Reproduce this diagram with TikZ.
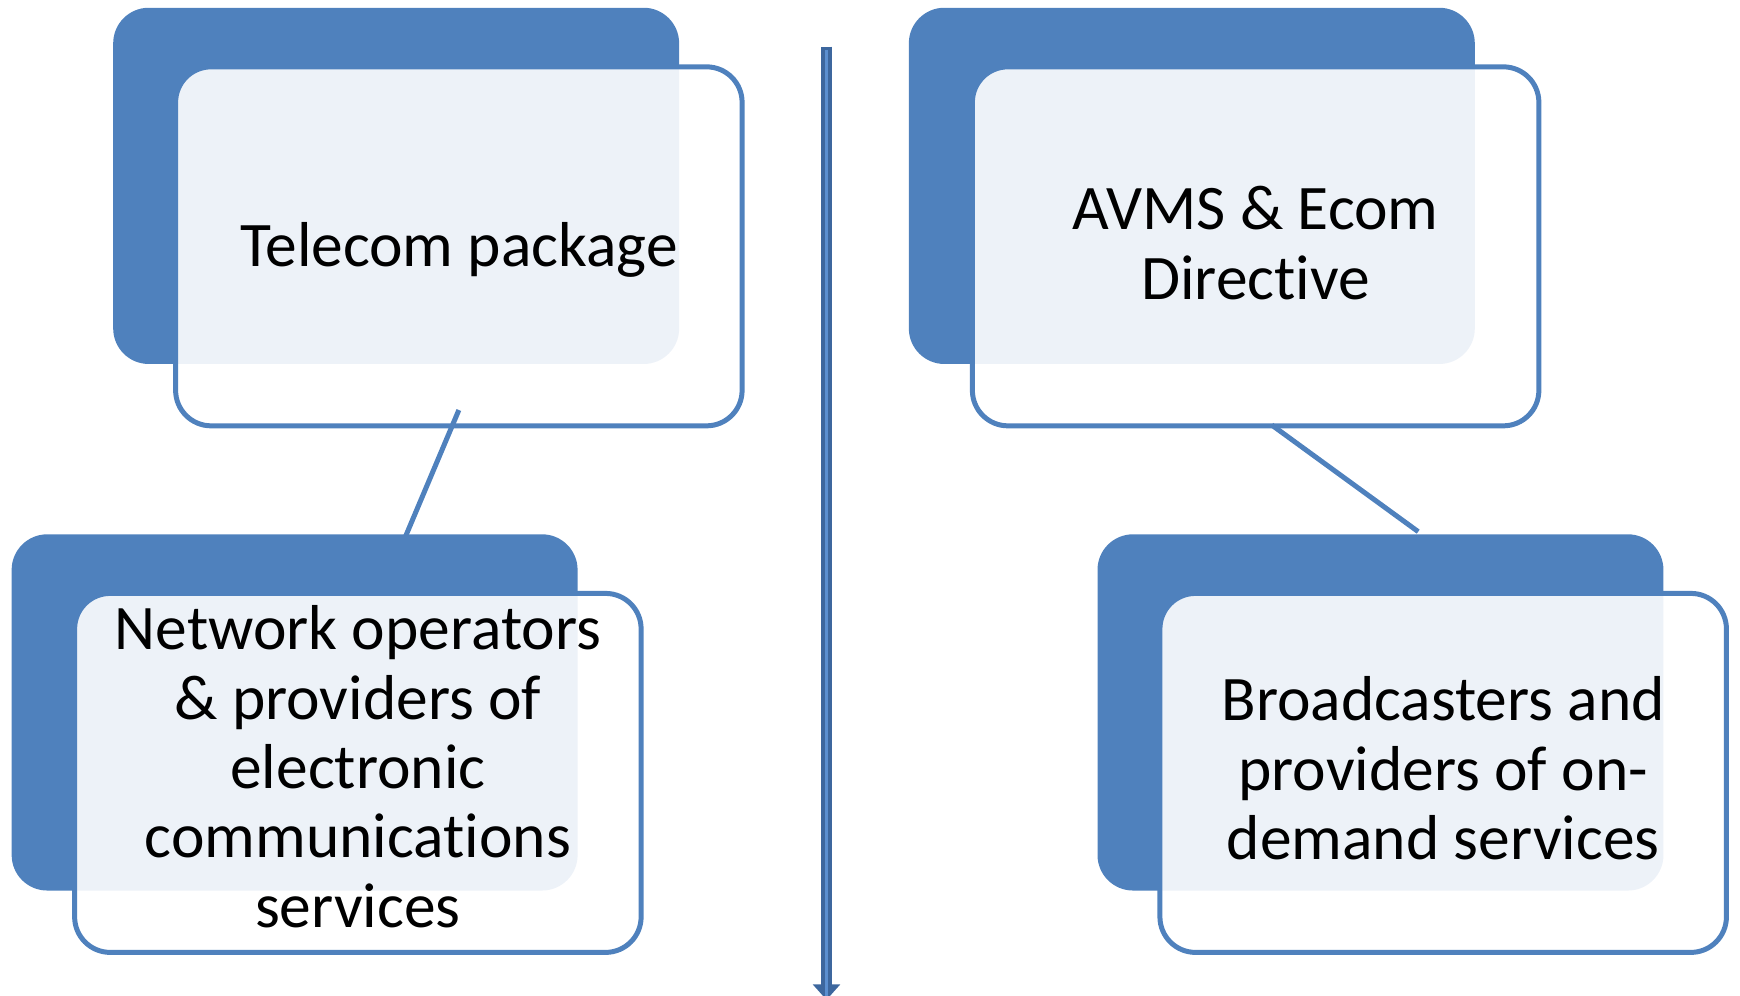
\documentclass[tikz,border=0pt]{standalone}
\usepackage{fontspec}
\setmainfont{Carlito}[Ligatures=NoCommon]
\usetikzlibrary{calc}
\definecolor{accent}{HTML}{4F81BD}
\definecolor{shaftdark}{HTML}{3D679E}
\definecolor{shaftlight}{HTML}{5B8FD0}
\tikzset{
  backbox/.style={rectangle, rounded corners=16pt, fill=accent, minimum width=255pt, minimum height=160.5pt, inner sep=0pt},
  frontbox/.style={rectangle, rounded corners=16pt, draw=accent, line width=2.25pt, fill=white, fill opacity=0.9, minimum width=255.25pt, minimum height=161.75pt, inner sep=0pt},
  boxtext/.style={align=center, font=\fontsize{28.6}{31.25}\selectfont, inner sep=0pt, text=black},
  linkline/.style={draw=accent, line width=2.25pt},
}
\begin{document}
\begin{tikzpicture}[x=0.5pt,y=-0.5pt]
\useasboundingbox (0,0) rectangle (1568,897);
% boxes
\node[backbox] (tlb) at (357,167.5) {};
\node[frontbox] (tlf) at (413.5,222) {};
\node[backbox] (blb) at (265.5,642) {};
\node[frontbox] (blf) at (322.5,696.5) {};
\node[backbox] (trb) at (1074,167.5) {};
\node[frontbox] (trf) at (1131.5,222) {};
\node[backbox] (brb) at (1244,642) {};
\node[frontbox] (brf) at (1300.5,696.5) {};
% connectors
\coordinate (l1a) at ($(tlf.south)+(0,-16.5)$);
\coordinate (l1b) at ($(blf.north)+(23.5,-3)$);
\draw[linkline] (l1a) -- (l1b);
\coordinate (l2a) at ($(trf.south)+(14.5,-3)$);
\coordinate (l2b) at ($(brb.north)+(34,-2)$);
\draw[linkline] (l2a) -- (l2b);
% vertical arrow
\coordinate (atop) at (744.8,42);
\coordinate (abot) at (744.8,888);
\draw[shaftdark, line width=5pt] (atop) -- (abot);
\draw[shaftlight, line width=1.2pt] ($(atop)+(0,3)$) -- ($(abot)+(0,6)$);
\fill[shaftdark] ($(abot)+(-12.5,-1)$) -- ($(abot)+(12.5,-1)$) -- ($(abot)+(0,13)$) -- cycle;
\draw[shaftlight, line width=1.2pt] ($(abot)+(0,-2)$) -- ($(abot)+(0,10)$);
% texts
\node[boxtext] (tlt) at (413.5,225) {Telecom package};
\node[boxtext] (blt) at (322.5,691) {Network operators\\ \& providers of\\ electronic\\ communications\\ services};
\node[boxtext] (trt) at (1131.5,219) {AVMS \& Ecom\\ Directive};
\node[boxtext] (brt) at (1300.5,692.5) {Broadcasters and\\ providers of on-\\ demand services};
\end{tikzpicture}
\end{document}
